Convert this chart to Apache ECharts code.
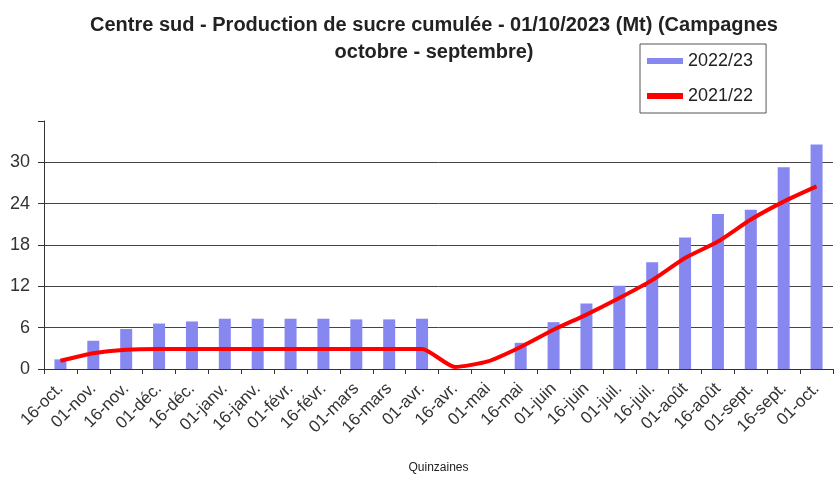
<!DOCTYPE html>
<html>
<head>
<meta charset="utf-8">
<script src="https://cdn.jsdelivr.net/npm/echarts@6/dist/echarts.min.js"></script>
<style>
html,body{margin:0;padding:0;background:#fff;}
#c{width:840px;height:483px;}
</style>
</head>
<body>
<div id="c"></div>
<script>
const categories = ['16-oct.','01-nov.','16-nov.','01-déc.','16-déc.','01-janv.','16-janv.','01-févr.','16-févr.','01-mars','16-mars','01-avr.','16-avr.','01-mai','16-mai','01-juin','16-juin','01-juil.','16-juil.','01-août','16-août','01-sept.','16-sept.','01-oct.'];
const s2022 = [1.4, 4.1, 5.8, 6.6, 6.9, 7.3, 7.3, 7.3, 7.3, 7.2, 7.2, 7.3, null, null, 3.8, 6.8, 9.5, 12.1, 15.5, 19.1, 22.5, 23.1, 29.3, 32.6];
const s2021 = [1.2, 2.3, 2.8, 2.9, 2.9, 2.9, 2.9, 2.9, 2.9, 2.9, 2.9, 2.9, 0.3, 1.1, 3.2, 5.7, 7.9, 10.3, 12.9, 16.1, 18.5, 21.7, 24.3, 26.5];
const yTicks = [0, 6, 12, 18, 24, 30];

const chart = echarts.init(document.getElementById('c'));
chart.setOption({
  animation: false,
  backgroundColor: '#fff',
  title: {
    text: 'Centre sud - Production de sucre cumulée - 01/10/2023 (Mt) (Campagnes\noctobre - septembre)',
    left: 429, top: 7, textAlign: 'center',
    textStyle: {fontFamily: 'Liberation Sans', fontSize: 20, fontWeight: 'bold', color: '#222', lineHeight: 27}
  },
  legend: {
    orient: 'vertical', left: 640, top: 44,
    borderColor: '#555', borderWidth: 1, padding: [8, 13, 8, 7],
    itemWidth: 36, itemHeight: 6, itemGap: 17,
    textStyle: {fontFamily: 'Liberation Sans', fontSize: 18, color: '#222'},
    data: [{name: '2022/23', icon: 'rect'}, {name: '2021/22', icon: 'rect'}]
  },
  grid: {left: 44, right: 7, top: 121, bottom: 114},
  xAxis: {
    type: 'category', data: categories, boundaryGap: true,
    name: 'Quinzaines', nameLocation: 'middle', nameGap: 93,
    nameTextStyle: {fontFamily: 'Liberation Sans', fontSize: 12, color: '#222'},
    axisLine: {lineStyle: {color: '#333', width: 1}},
    axisTick: {show: true, length: 5, alignWithLabel: false, lineStyle: {color: '#333'}},
    axisLabel: {rotate: 45, interval: 0, fontFamily: 'Liberation Sans', fontSize: 17, color: '#333', margin: 17}
  },
  yAxis: {
    type: 'value', min: 0, max: 36, interval: 6,
    axisLine: {show: true, lineStyle: {color: '#333', width: 1}},
    axisTick: {show: true, length: 6, lineStyle: {color: '#333'}},
    axisLabel: {fontFamily: 'Liberation Sans', fontSize: 18, color: '#333', margin: 14,
      formatter: v => yTicks.includes(v) ? String(v) : ''},
    splitLine: {show: true, lineStyle: {color: ['#444','#444','#444','#444','#444','#444','rgba(0,0,0,0)'], width: 1}}
  },
  series: [
    {name: '2022/23', type: 'bar', data: s2022, barWidth: 12, itemStyle: {color: '#8787f0'}},
    {name: '2021/22', type: 'line', data: s2021, smooth: 0.2, showSymbol: false, symbol: 'none',
     lineStyle: {color: '#ff0000', width: 4}, itemStyle: {color: '#ff0000'}, z: 3}
  ]
});
</script>
</body>
</html>
